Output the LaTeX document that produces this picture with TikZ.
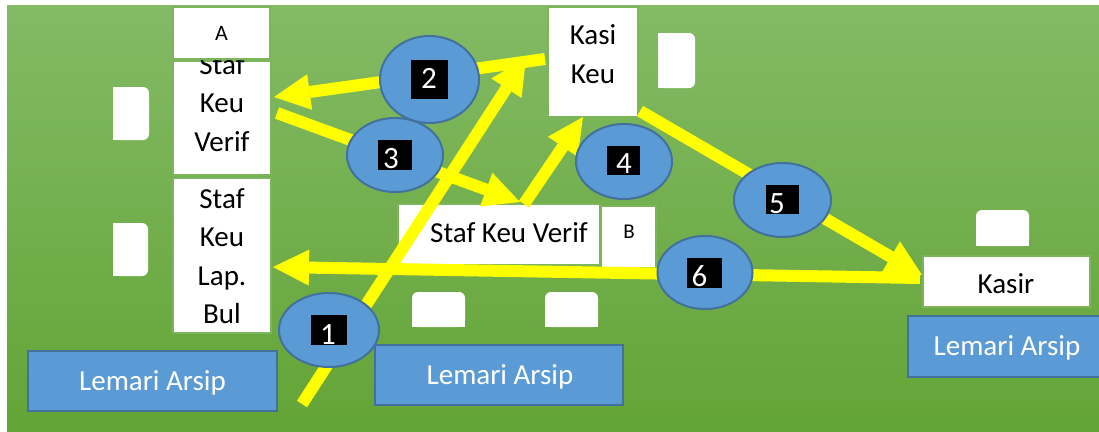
\documentclass[tikz,border=0pt]{standalone}
\usepackage{fontspec}
\setmainfont{Carlito}
\usetikzlibrary{arrows.meta,shapes.geometric}
\definecolor{bgtop}{RGB}{131,186,101}
\definecolor{bgbot}{RGB}{99,164,54}
\definecolor{boxline}{RGB}{125,182,90}
\definecolor{blu}{RGB}{91,155,213}
\definecolor{bluline}{RGB}{65,113,156}
\definecolor{yel}{RGB}{255,255,0}
\begin{document}
\begin{tikzpicture}[x=1pt,y=-1pt,
 wbox/.style={draw=boxline, line width=1.5pt, fill=white, inner sep=0pt, outer sep=0pt},
 lemari/.style={draw=bluline, line width=2.5pt, fill=blu, inner sep=0pt, outer sep=0pt},
 ell/.style={ellipse, draw=bluline, line width=2pt, fill=blu, inner sep=0pt},
 tag/.style={fill=black, inner sep=0pt, outer sep=0pt},
 dig/.style={text=white, font=\fontsize{31}{31}\selectfont, anchor=base, inner sep=0pt},
 txt/.style={font=\fontsize{29}{38.5}\selectfont, align=center, inner sep=0pt},
 btxt/.style={font=\fontsize{29}{38.5}\selectfont, anchor=base, inner sep=0pt},
 ltxt/.style={font=\fontsize{29}{38.5}\selectfont, text=white, anchor=base, inner sep=0pt},
 flow/.style={draw=yel, line width=12pt, -{Triangle[length=36pt,width=36pt,line width=0pt]}},
 tab/.style={fill=white}
]
\useasboundingbox (0,0) rectangle (1099,431);
\fill[white] (0,0) rectangle (1099,431);
\shade[top color=bgtop, bottom color=bgbot] (7,5) rectangle (1099,431);

% small tabs
\fill[tab, rounded corners=6pt] (113,87) rectangle (149,140);
\fill[tab] (113,87) rectangle (131,140);
\fill[tab, rounded corners=6pt] (113,223) rectangle (148,276);
\fill[tab] (113,223) rectangle (130,276);
\fill[tab, rounded corners=6pt] (658,33) rectangle (695,88);
\fill[tab] (658,33) rectangle (676,88);
\fill[tab, rounded corners=6pt] (412,292) rectangle (465,327);
\fill[tab] (412,310) rectangle (465,327);
\fill[tab, rounded corners=6pt] (545,292) rectangle (598,327);
\fill[tab] (545,310) rectangle (598,327);
\fill[tab, rounded corners=6pt] (976,210) rectangle (1029,246);
\fill[tab] (976,228) rectangle (1029,246);

% white boxes
\node[wbox, minimum width=98pt, minimum height=114pt] (verifA) at (222,118) {};
\node[txt] (tverifA) at (222,103) {Staf\\Keu\\Verif};
\node[wbox, minimum width=97pt, minimum height=52pt] (boxA) at (221.5,33) {};
\node[btxt, font=\fontsize{22}{22}\selectfont] (tA) at (221.5,40.5) {A};
\node[wbox, minimum width=98pt, minimum height=155pt] (lapbul) at (222,255.5) {};
\node[txt] (tlap) at (222,256) {Staf\\Keu\\Lap.\\Bul};
\node[wbox, minimum width=90pt, minimum height=110pt] (kasi) at (593,62) {};
\node[txt] (tkasi) at (593,54) {Kasi\\Keu};
\node[wbox, minimum width=202pt, minimum height=61pt] (verifB) at (499,234.5) {};
\node[btxt] (tverifB) at (509,242) {Staf Keu Verif};
\node[wbox, minimum width=55pt, minimum height=62pt] (boxB) at (628.5,237) {};
\node[btxt, font=\fontsize{21}{21}\selectfont] (tB) at (629,238) {B};
\node[wbox, minimum width=167pt, minimum height=51pt] (kasir) at (1006.5,281.5) {};
\node[btxt] (tkasir) at (1006,293) {Kasir};

% archive cabinets
\node[lemari, minimum width=249pt, minimum height=60pt] (lem1) at (152.5,381) {};
\node[ltxt] (tlem1) at (152.5,390) {Lemari Arsip};
\node[lemari, minimum width=248pt, minimum height=60pt] (lem2) at (499,375) {};
\node[ltxt] (tlem2) at (500,384) {Lemari Arsip};
\node[lemari, minimum width=194pt, minimum height=61pt] (lem3) at (1005,346.5) {};
\node[ltxt] (tlem3) at (1007,355) {Lemari Arsip};

% arrow end points
\coordinate (a1s) at (302,404); \coordinate (a1e) at (526,58);
\coordinate (a2s) at (545,59);  \coordinate (a2e) at (274,97);
\coordinate (a3s) at (277,113); \coordinate (a3e) at (520,202);
\coordinate (a4s) at (524,204); \coordinate (a4e) at (583,117);
\coordinate (a5s) at (640,111); \coordinate (a5e) at (922,275);
\coordinate (a6s) at (920,278); \coordinate (a6e) at (273,267);

\draw[flow] (a1s) -- (a1e);
\draw[flow] (a2s) -- (a2e);
\draw[flow] (a3s) -- (a3e);
\draw[flow] (a4s) -- (a4e);
\draw[flow] (a5s) -- (a5e);
\draw[flow] (a6s) -- (a6e);

% step ellipses
\node[ell, minimum width=100pt, minimum height=74pt] (e1) at (329,330) {};
\node[ell, minimum width=99pt, minimum height=87pt] (e2) at (429.5,79.5) {};
\node[ell, minimum width=96pt, minimum height=74pt] (e3) at (395,155) {};
\node[ell, minimum width=96pt, minimum height=75pt] (e4) at (624,161.5) {};
\node[ell, minimum width=97pt, minimum height=74pt] (e5) at (782.5,200) {};
\node[ell, minimum width=95pt, minimum height=73pt] (e6) at (705,272.5) {};

\node[tag, minimum width=36pt, minimum height=30pt] (g1) at (329,330) {};
\node[dig] (d1) at (328,344) {1};
\node[tag, minimum width=37pt, minimum height=39pt] (g2) at (429.5,79.5) {};
\node[dig] (d2) at (429,88) {2};
\node[tag, minimum width=34pt, minimum height=30pt] (g3) at (395,155) {};
\node[dig] (d3) at (391,168) {3};
\node[tag, minimum width=33pt, minimum height=29pt] (g4) at (623.5,160.5) {};
\node[dig] (d4) at (624,173) {4};
\node[tag, minimum width=33pt, minimum height=29pt] (g5) at (782.5,199.5) {};
\node[dig] (d5) at (777,213) {5};
\node[tag, minimum width=35pt, minimum height=30pt] (g6) at (704.5,273) {};
\node[dig] (d6) at (699.5,286) {6};
\end{tikzpicture}
\end{document}
